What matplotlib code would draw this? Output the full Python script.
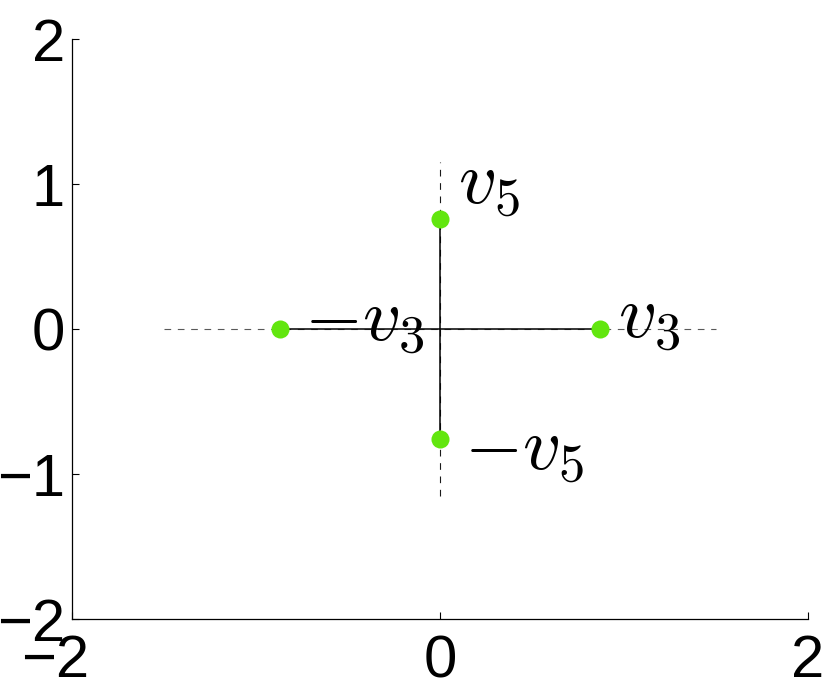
import matplotlib
matplotlib.use("Agg")
import matplotlib.pyplot as plt
import matplotlib.transforms as mtransforms

# eigenvector points
point_x = [0.87, -0.87, 0.0, 0.0]
point_y = [0.0, 0.0, 0.76, -0.76]
point_labels = [r"$v_3$", r"$-v_3$", r"$v_5$", r"$-v_5$"]
label_x = [0.97, -0.74, 0.1, 0.13]
label_y = [-0.06, -0.08, 0.86, -0.97]

# dashed guide extents
guide_h = [-1.5, 1.5]
guide_v = [-1.15, 1.15]

ticks = [-2, 0, 2]
yticks = [-2, -1, 0, 1, 2]

plt.rcParams["mathtext.fontset"] = "cm"
plt.rcParams["font.family"] = ["Liberation Sans", "DejaVu Sans"]

fig = plt.figure(figsize=(8.3, 6.81), dpi=100)
ax = fig.add_axes([0.0867, 0.091, 0.8868, 0.8517])

green = "#62e60f"

ax.plot(guide_h, [0, 0], color="0.35", linestyle=(0, (6, 6)), linewidth=0.8)
ax.plot([0, 0], guide_v, color="0.1", linestyle=(0, (6, 6)), linewidth=0.8)
ax.plot([point_x[1], point_x[0]], [0, 0], color="k", linewidth=1.1)
ax.plot([0, 0], [point_y[3], point_y[2]], color="k", linewidth=1.1)
ax.plot(point_x, point_y, "o", color=green, markersize=13, markeredgewidth=0)

for lx, ly, txt in zip(label_x, label_y, point_labels):
    ax.text(lx, ly, txt, fontsize=54, ha="left", va="baseline")

ax.set_xlim(-2, 2)
ax.set_ylim(-2, 2)
ax.set_xticks(ticks)
ax.set_yticks(yticks)
ax.set_xticklabels(["\u22122", "0", "2"])
ax.set_yticklabels(["\u22122", "\u22121", "0", "1", "2"])
ax.tick_params(direction="in", length=5, width=0.8, labelsize=43, pad=5)
ax.tick_params(axis="x", pad=11)
for side in ["top", "right"]:
    ax.spines[side].set_visible(False)
for side in ["left", "bottom"]:
    ax.spines[side].set_linewidth(0.9)

# MATLAB-style: keep the digit centred under the tick, minus hangs left
lbl = ax.get_xticklabels()[0]
lbl.set_transform(lbl.get_transform() + mtransforms.ScaledTranslation(-12 / 72, 0, fig.dpi_scale_trans))

fig.savefig("out.png", dpi=100)
